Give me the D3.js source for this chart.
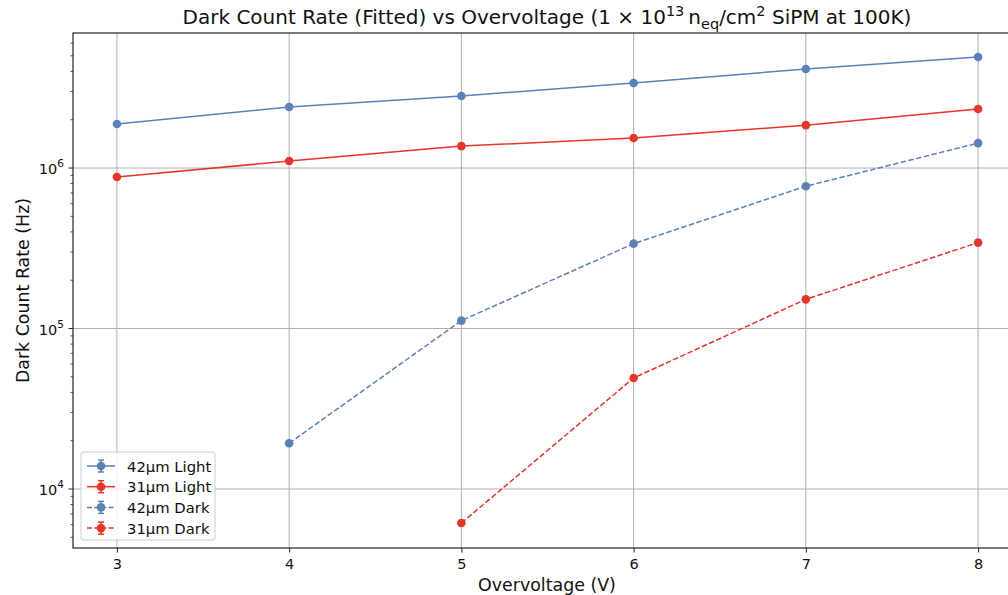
<!DOCTYPE html>
<html><head><meta charset="utf-8">
<script src="https://cdn.jsdelivr.net/npm/d3@7"></script>
<style>body{margin:0;background:#fff}svg{display:block;font-family:"DejaVu Sans",sans-serif}</style>
</head><body>
<svg id="c" width="1008" height="595"></svg>
<script>
const overvoltage = [3, 4, 5, 6, 7, 8];
const light42 = [1.88e6, 2.40e6, 2.81e6, 3.39e6, 4.14e6, 4.92e6];
const light31 = [8.8e5, 1.105e6, 1.37e6, 1.54e6, 1.85e6, 2.33e6];
const dark42 = [null, 1.93e4, 1.12e5, 3.38e5, 7.7e5, 1.43e6];
const dark31 = [null, null, 6.14e3, 4.92e4, 1.52e5, 3.43e5];
const seriesNames = ["42µm Light", "31µm Light", "42µm Dark", "31µm Dark"];
const xTicks = [3, 4, 5, 6, 7, 8];
const yMajor = [1e4, 1e5, 1e6];

const blue = "#5b82b8", red = "#e8352a";
const series = [
  {name: seriesNames[0], vals: light42, color: blue, dash: null},
  {name: seriesNames[1], vals: light31, color: red, dash: null},
  {name: seriesNames[2], vals: dark42, color: blue, dash: "5.5,2.4"},
  {name: seriesNames[3], vals: dark31, color: red, dash: "5.5,2.4"}
];

const svg = d3.select("#c");
const L = 73, T = 33, R = 1022, B = 548;
const x = d3.scaleLinear().domain([2.745, 8.255]).range([L, R]);
const y = d3.scaleLog().domain([4.29e3, 6.94e6]).range([B, T]);

// grid
const g = svg.append("g");
xTicks.forEach(t => g.append("line").attr("x1", x(t)).attr("x2", x(t)).attr("y1", T).attr("y2", B)
  .attr("stroke", "#b0b0b0").attr("stroke-width", 1));
yMajor.forEach(t => g.append("line").attr("x1", L).attr("x2", R).attr("y1", y(t)).attr("y2", y(t))
  .attr("stroke", "#b0b0b0").attr("stroke-width", 1));

// lines & markers
series.forEach(s => {
  const pts = overvoltage.map((v, i) => [v, s.vals[i]]).filter(p => p[1] != null);
  const line = d3.line().x(p => x(p[0])).y(p => y(p[1]));
  svg.append("path").attr("d", line(pts)).attr("fill", "none").attr("stroke", s.color)
    .attr("stroke-width", 1.5).attr("stroke-dasharray", s.dash);
  svg.selectAll(null).data(pts).enter().append("circle")
    .attr("cx", p => x(p[0])).attr("cy", p => y(p[1])).attr("r", 4.3).attr("fill", s.color);
});

// spines
svg.append("rect").attr("x", L).attr("y", T).attr("width", R - L).attr("height", B - T)
  .attr("fill", "none").attr("stroke", "#222").attr("stroke-width", 1.2);

// x ticks
const xa = d3.axisBottom(x).tickValues(xTicks).tickSize(4.5).tickPadding(6).tickFormat(d3.format("d"));
const xg = svg.append("g").attr("transform", `translate(0,${B})`).call(xa);
xg.select(".domain").remove();
xg.selectAll("text").attr("font-size", 14.5).attr("fill", "#111").attr("font-family", "DejaVu Sans");
xg.selectAll("line").attr("stroke", "#222");

// y ticks major + minor
const yg = svg.append("g");
const minor = [];
for (let e = 3; e <= 6; e++) for (let m = 2; m <= 9; m++) {
  const v = m * Math.pow(10, e);
  if (v >= y.domain()[0] && v <= y.domain()[1]) minor.push(v);
}
minor.forEach(v => yg.append("line").attr("x1", L - 2.5).attr("x2", L).attr("y1", y(v)).attr("y2", y(v)).attr("stroke", "#222").attr("stroke-width", 0.8));
yMajor.forEach(v => {
  yg.append("line").attr("x1", L - 4.5).attr("x2", L).attr("y1", y(v)).attr("y2", y(v)).attr("stroke", "#222");
  const t = yg.append("text").attr("x", L - 9).attr("y", y(v) + 6).attr("text-anchor", "end")
    .attr("font-size", 14.5).attr("fill", "#111");
  t.append("tspan").text("10");
  t.append("tspan").attr("dy", -7).attr("font-size", 10.5).text(Math.round(Math.log10(v)));
});

// labels
svg.append("text").attr("x", 547).attr("y", 591).attr("text-anchor", "middle").attr("font-size", 17.4).attr("fill", "#111").text("Overvoltage (V)");
svg.append("text").attr("transform", `translate(29,${(T + B) / 2}) rotate(-90)`).attr("text-anchor", "middle")
  .attr("font-size", 17.4).attr("fill", "#111").text("Dark Count Rate (Hz)");

const title = svg.append("text").attr("x", 547).attr("y", 24).attr("text-anchor", "middle").attr("font-size", 20).attr("fill", "#111");
title.append("tspan").text("Dark Count Rate (Fitted) vs Overvoltage (1 × 10");
title.append("tspan").attr("dy", -8).attr("font-size", 14.5).text("13");
title.append("tspan").attr("dy", 8).text("\u2009n");
title.append("tspan").attr("dy", 4.5).attr("font-size", 14.5).text("eq");
title.append("tspan").attr("dy", -4.5).text("/cm");
title.append("tspan").attr("dy", -8).attr("font-size", 14.5).text("2");
title.append("tspan").attr("dy", 8).text(" SiPM at 100K)");

// legend
const lg = svg.append("g").attr("transform", "translate(81,452)");
lg.append("rect").attr("width", 134).attr("height", 88).attr("rx", 3).attr("fill", "#fff").attr("fill-opacity", 0.8)
  .attr("stroke", "#ccc").attr("stroke-width", 1);
series.forEach((s, i) => {
  const cy = 14 + i * 20.7;
  lg.append("line").attr("x1", 6).attr("x2", 34).attr("y1", cy).attr("y2", cy).attr("stroke", s.color)
    .attr("stroke-width", 1.5).attr("stroke-dasharray", s.dash ? "5,2.2" : null);
  lg.append("line").attr("x1", 20).attr("x2", 20).attr("y1", cy - 6).attr("y2", cy + 6).attr("stroke", s.color).attr("stroke-width", 1.5);
  lg.append("line").attr("x1", 17).attr("x2", 23).attr("y1", cy - 6).attr("y2", cy - 6).attr("stroke", s.color).attr("stroke-width", 1.5);
  lg.append("line").attr("x1", 17).attr("x2", 23).attr("y1", cy + 6).attr("y2", cy + 6).attr("stroke", s.color).attr("stroke-width", 1.5);
  lg.append("circle").attr("cx", 20).attr("cy", cy).attr("r", 4.3).attr("fill", s.color);
  lg.append("text").attr("x", 46).attr("y", cy + 5.5).attr("font-size", 14.8).attr("fill", "#111").text(s.name);
});
</script>
</body></html>
